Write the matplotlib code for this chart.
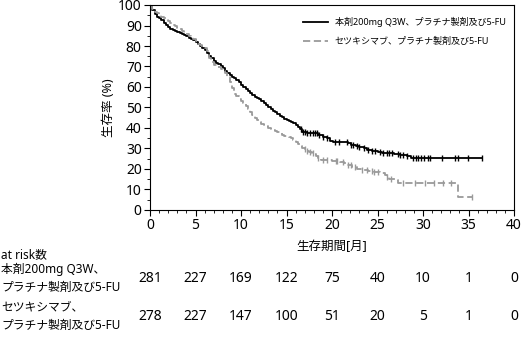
import numpy as np
import matplotlib
matplotlib.use("Agg")
import matplotlib.pyplot as plt
import matplotlib.transforms as mtransforms

plt.rcParams['font.family'] = ['Noto Sans', 'Noto Sans CJK JP', 'DejaVu Sans']

# Kaplan-Meier step data (months, survival %)
t_pembro = [0, 0.25, 0.5, 0.75, 1.0, 1.25, 1.5, 1.75, 2.0, 2.25, 2.5, 2.75, 3.0,
            3.25, 3.5, 3.75, 4.0, 4.25, 4.5, 4.75, 5.0, 5.25, 5.5, 5.75, 6.0,
            6.25, 6.5, 6.75, 7.0, 7.25, 7.5, 7.75, 8.0, 8.25, 8.5, 8.75, 9.0,
            9.25, 9.5, 9.75, 10.0, 10.25, 10.5, 10.75, 11.0, 11.25, 11.5, 11.75,
            12.0, 12.25, 12.5, 12.75, 13.0, 13.25, 13.5, 13.75, 14.0, 14.25,
            14.5, 14.75, 15.0, 15.25, 15.5, 15.75, 16.0, 16.25, 16.5, 16.75,
            17.3, 18.0, 18.5, 19.0, 19.4, 19.8, 20.1, 21.8, 22.1, 22.6, 23.0,
            23.5, 23.8, 24.4, 25.0, 25.5, 26.2, 26.8, 27.5, 28.2, 28.7, 36.5]
s_pembro = [100, 97.5, 95.5, 94.3, 93.5, 92.5, 91.3, 90.3, 89.5, 88.5, 88, 87.3, 86.7,
            86.2, 85.7, 85.2, 84.7, 84, 83.4, 82.9, 82, 81, 80, 79.2, 78,
            76.5, 75.3, 74, 72.7, 71.7, 71, 70.2, 69.2, 68, 67, 66, 65,
            64.2, 63.4, 62.2, 61, 59.8, 58.8, 58, 57, 56, 55, 54.5,
            54, 53.3, 52.3, 51.3, 50.3, 49.3, 48.5, 47.6, 46.8, 46,
            45.2, 44.5, 43.9, 43.4, 42.8, 42.2, 41.5, 40.5, 39.3, 38.2,
            37.8, 37.4, 36.6, 35.8, 35, 33.7, 33.3, 32.5, 31.7, 31.2, 30.6,
            30, 29.3, 28.8, 28.3, 28, 27.6, 27.2, 26.8, 26.3, 25.4, 25.4]

t_cetux = [0, 0.25, 0.5, 0.75, 1.0, 1.25, 1.5, 1.75, 2.0, 2.25, 2.5, 2.75, 3.0,
           3.25, 3.5, 3.75, 4.0, 4.25, 4.5, 4.75, 5.0, 5.25, 5.5, 5.75, 6.0,
           6.25, 6.5, 6.75, 7.0, 7.25, 7.5, 7.75, 8.0, 8.25, 8.5, 8.75, 9.0,
           9.25, 9.5, 9.75, 10.0, 10.25, 10.5, 10.75, 11.0, 11.25, 11.5, 11.75,
           12.0, 12.25, 12.5, 12.75, 13.0, 13.25, 13.5, 13.75, 14.0, 14.25,
           14.5, 14.75, 15.0, 15.25, 15.5, 15.75, 16.0, 16.25, 16.5, 16.75,
           17.0, 17.25, 17.5, 17.75, 18.0, 18.25, 18.5, 18.75, 19.3, 20.0,
           20.9, 21.3, 21.7, 22.2, 22.7, 23.3, 24.0, 24.6, 25.3, 25.8, 26.0,
           26.3, 27.0, 27.3, 33.9, 35.4]
s_cetux = [100, 98, 96.8, 96, 95.2, 94.3, 93.5, 92.8, 92, 91.2, 90.4, 89.7, 89,
           88.3, 87.4, 86.5, 85.7, 85, 84.2, 83.3, 82.2, 81.2, 80.3, 79.5, 78.8,
           77.5, 74, 72, 70.8, 70.2, 69.6, 69, 68, 66.8, 64.8, 62.3, 59.5,
           56.8, 55.6, 54.3, 53.3, 52.2, 50.8, 49.5, 48, 46.5, 44.9, 43.8,
           42.8, 42, 41.4, 40.8, 40.2, 39.6, 39, 38.5, 38, 37.4,
           36.8, 36.3, 36, 35.6, 35, 34, 33, 32.2, 31.3, 30.3,
           29.6, 29, 28.4, 27.8, 27.2, 26.2, 25.3, 24.6, 24.2, 23.8,
           23.4, 22.8, 22, 21.2, 20.2, 19.7, 19, 18.5, 18, 17, 16,
           15.3, 14.5, 13.3, 6.5, 6.5]

# censored times
c_pembro = [16.6, 16.8, 17.0, 17.3, 17.6, 17.9, 18.1, 18.4, 18.6, 19.0, 19.5,
            20.3, 20.8, 21.6, 22.1, 22.3, 22.7, 23.0, 23.5, 24.0, 24.4, 24.7,
            25.3, 25.6, 26.0, 26.3, 26.6, 27.3, 27.5, 27.8, 28.2, 28.9, 29.2,
            29.5, 29.8, 30.1, 30.5, 30.8, 32.1, 33.5, 33.8, 34.9, 36.5]
c_cetux = [17.0, 17.3, 17.6, 17.9, 18.5, 19.0, 19.5, 20.4, 20.6, 21.2, 21.8,
           22.1, 22.5, 23.3, 23.8, 24.4, 24.6, 25.0, 26.0, 26.5, 27.8, 29.1,
           30.2, 31.2, 32.2, 33.1, 35.4]

risk_times = [0, 5, 10, 15, 20, 25, 30, 35, 40]
risk_pembro = [281, 227, 169, 122, 75, 40, 10, 1, 0]
risk_cetux = [278, 227, 147, 100, 51, 20, 5, 1, 0]

lab_pembro = '本剤200mg Q3W、プラチナ製剤及び5-FU'
lab_cetux = 'セツキシマブ、プラチナ製剤及び5-FU'


def surv_at(times, surv, t):
    idx = np.searchsorted(times, t, side='right') - 1
    return np.array(surv)[idx]


fig = plt.figure(figsize=(5.24, 3.38), dpi=100)
ax = fig.add_axes([150 / 524, 1 - 210 / 338, 364 / 524, 205 / 338])

gray = '#9a9a9a'
ax.step(t_pembro, s_pembro, where='post', color='black', lw=1.3, label=lab_pembro)
ax.step(t_cetux, s_cetux, where='post', color=gray, lw=1.3, dashes=(4, 2),
        label=lab_cetux)
ax.plot(c_pembro, surv_at(t_pembro, s_pembro, c_pembro), ls='none', marker='|',
        ms=4, mew=1, color='black')
ax.plot(c_cetux, surv_at(t_cetux, s_cetux, c_cetux), ls='none', marker='|',
        ms=4, mew=1, color=gray)

ax.set_xlim(0, 40)
ax.set_ylim(0, 100)
ax.set_xticks(range(0, 41, 5))
ax.set_xticks(range(0, 41, 1), minor=True)
ax.set_yticks(range(0, 101, 10))
ax.set_yticks(range(0, 101, 5), minor=True)
ax.tick_params(labelsize=10, length=4, width=0.8, pad=2)
ax.tick_params(which='minor', length=2.5, width=0.6)
for sp in ax.spines.values():
    sp.set_linewidth(0.8)

ax.set_ylabel('生存率 (%)', fontsize=9, labelpad=2)
ax.set_xlabel('生存期間[月]', fontsize=9, labelpad=5)

leg = ax.legend(loc='upper right', frameon=False, fontsize=6.5,
                handlelength=2.7, bbox_to_anchor=(1.0, 0.98),
                labelspacing=1.1)

# at risk table
lx = 1 / 524
tkw = dict(fontsize=8.5, va='center')
fig.text(lx, 1 - 255 / 338, 'at risk数', **tkw)
fig.text(lx, 1 - 269 / 338, '本剤200mg Q3W、', **tkw)
fig.text(lx, 1 - 287 / 338, 'プラチナ製剤及び5-FU', **tkw)
fig.text(lx, 1 - 307 / 338, 'セツキシマブ、', **tkw)
fig.text(lx, 1 - 325 / 338, 'プラチナ製剤及び5-FU', **tkw)

trans = mtransforms.blended_transform_factory(ax.transData, fig.transFigure)
for t, a, b in zip(risk_times, risk_pembro, risk_cetux):
    ax.text(t, 1 - 278 / 338, str(a), transform=trans, ha='center', va='center',
            fontsize=10, clip_on=False)
    ax.text(t, 1 - 316 / 338, str(b), transform=trans, ha='center', va='center',
            fontsize=10, clip_on=False)

fig.savefig('out.png', dpi=100)
